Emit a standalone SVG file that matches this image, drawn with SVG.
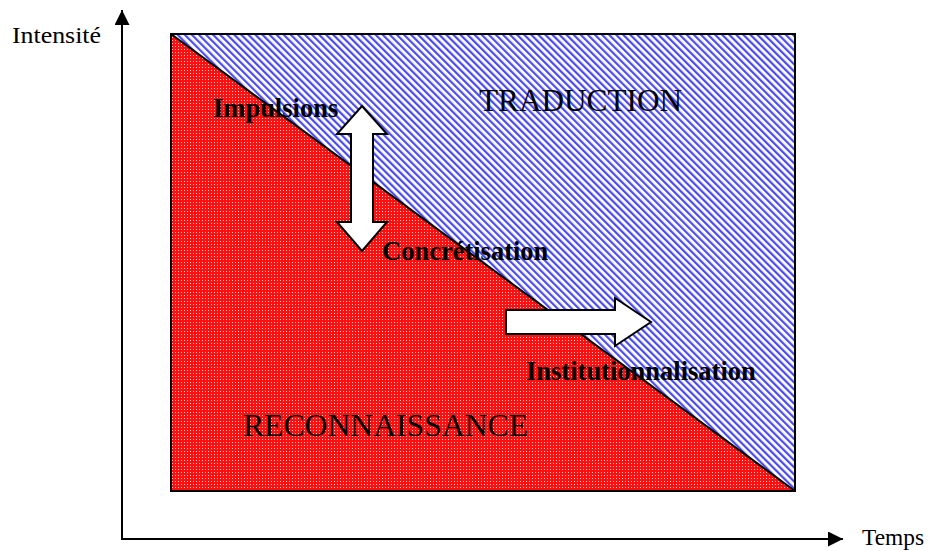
<svg xmlns="http://www.w3.org/2000/svg" width="935" height="551" viewBox="0 0 935 551">
<style>
  text { font-family: "Liberation Serif", "Times New Roman", serif; fill: #000; }
  .area { font-size: 32px; }
  .axis-label { font-size: 24px; }
  .lbl { font-size: 26.5px; font-weight: bold; }
  .axis { stroke: #000; stroke-width: 2; fill: none; }
  .big-arrow { fill: #fff; stroke: #000; stroke-width: 2; stroke-linejoin: miter; }
</style>
<defs>
  <pattern id="redDots" width="3" height="3" patternUnits="userSpaceOnUse">
    <rect width="3" height="3" fill="#ff1010"/>
    <rect x="1" y="1" width="1" height="1" fill="#ffc8c8"/>
  </pattern>
  <pattern id="blueHatch" width="5" height="5" patternUnits="userSpaceOnUse" patternTransform="rotate(-45)">
    <rect width="5" height="5" fill="#fff"/>
    <rect x="0" y="0" width="2.2" height="5" fill="#4a4af5"/>
  </pattern>
  <marker id="axisHead" viewBox="0 0 10 10" refX="10" refY="5" markerWidth="7.5" markerHeight="7.5" orient="auto" markerUnits="strokeWidth">
    <path d="M0,0 L10,5 L0,10 Z" fill="#000"/>
  </marker>
</defs>

<g id="traduction-area">
  <polygon points="171,34 795,34 795,491" fill="url(#blueHatch)"/>
</g>
<g id="reconnaissance-area">
  <polygon points="171,34 795,491 171,491" fill="url(#redDots)"/>
</g>
<g id="frame">
  <rect x="171" y="34" width="624" height="457" fill="none" stroke="#000" stroke-width="2"/>
  <line x1="171" y1="34" x2="795" y2="491" stroke="#000" stroke-width="2"/>
</g>

<g id="connectors">
  <line class="axis" x1="122" y1="540" x2="122" y2="10" marker-end="url(#axisHead)"/>
  <line class="axis" x1="121" y1="539" x2="843" y2="539" marker-end="url(#axisHead)"/>
</g>

<g id="double-arrow">
  <polygon class="big-arrow" points="362,106 387,134 373,134 373,222 387,222 362,251 337,222 351,222 351,134 337,134"/>
</g>
<g id="right-arrow">
  <polygon class="big-arrow" points="506,310 615,310 615,298 651,322 615,346 615,334 506,334"/>
</g>

<g id="label-traduction"><text class="area" x="479" y="111" textLength="203" lengthAdjust="spacingAndGlyphs">TRADUCTION</text></g>
<g id="label-reconnaissance"><text class="area" x="243" y="436" textLength="285" lengthAdjust="spacingAndGlyphs">RECONNAISSANCE</text></g>
<g id="label-impulsions"><text class="lbl" x="213" y="117">Impulsions</text></g>
<g id="label-concretisation"><text class="lbl" x="382" y="260">Concrétisation</text></g>
<g id="label-institutionnalisation"><text class="lbl" x="526" y="380">Institutionnalisation</text></g>
<g id="label-intensite"><text class="axis-label" x="12" y="43" textLength="89" lengthAdjust="spacingAndGlyphs">Intensité</text></g>
<g id="label-temps"><text class="axis-label" x="862" y="545" textLength="62" lengthAdjust="spacingAndGlyphs">Temps</text></g>
</svg>
